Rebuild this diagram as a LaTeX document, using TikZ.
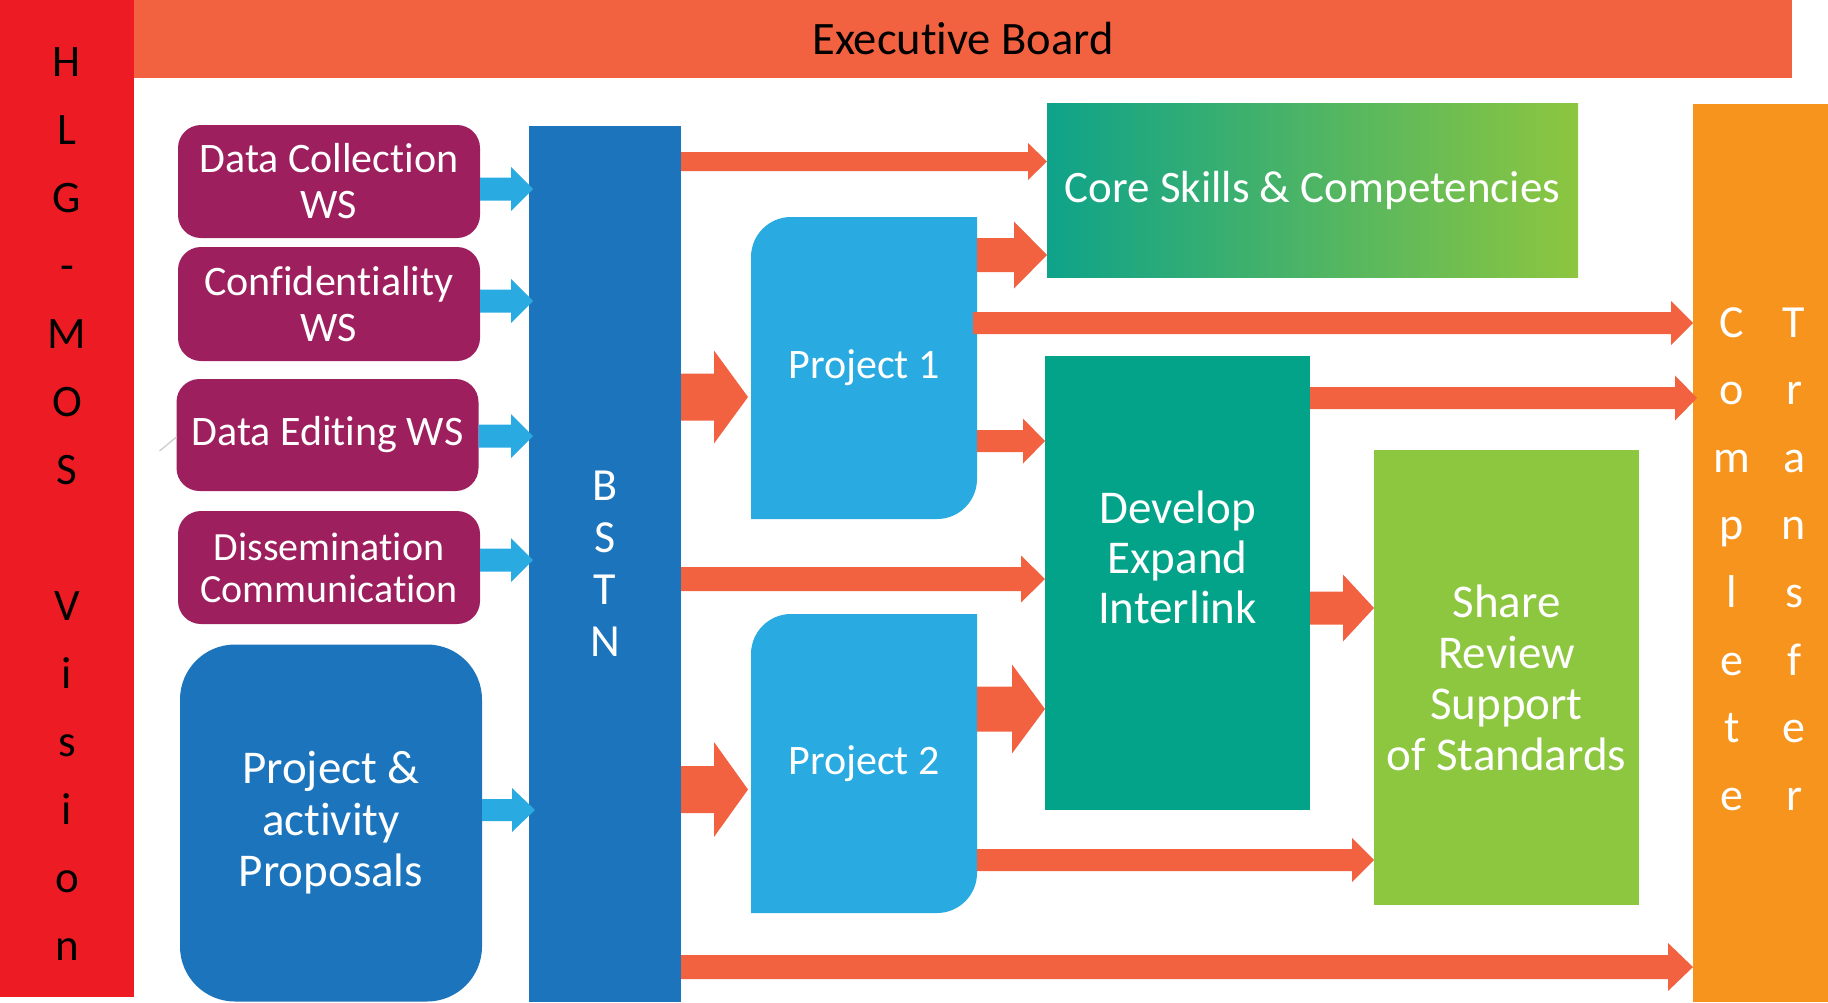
\documentclass[tikz,border=0pt]{standalone}
\usepackage{fontspec}
\setmainfont{Carlito}[Ligatures={TeX,NoCommon,NoContextual}]
\usetikzlibrary{calc,backgrounds}
\definecolor{visred}{HTML}{ED1C24}
\definecolor{boardor}{HTML}{F26241}
\definecolor{arrowor}{HTML}{F26241}
\definecolor{wspurple}{HTML}{9E1F5E}
\definecolor{dblue}{HTML}{1C75BC}
\definecolor{lblue}{HTML}{29ABE2}
\definecolor{devteal}{HTML}{03A389}
\definecolor{coreteal}{HTML}{0EA38A}
\definecolor{sgreen}{HTML}{8DC63F}
\definecolor{ctor}{HTML}{F7941D}
\newcommand{\setfs}[2]{\fontsize{#1pt}{#2pt}\selectfont}
% block arrow: colour, from, to (tip), y, shaft half, head half, head length
\newcommand{\barr}[7]{%
  \fill[#1] let \p1=(#2), \p2=(#3) in
    (\x1,-#4pt+#5pt) -- (\x2-#7pt,-#4pt+#5pt) -- (\x2-#7pt,-#4pt+#6pt) -- (\x2,-#4pt)
    -- (\x2-#7pt,-#4pt-#6pt) -- (\x2-#7pt,-#4pt-#5pt) -- (\x1,-#4pt-#5pt) -- cycle;}
\tikzset{
  box/.style={inner sep=0pt, outer sep=0pt, align=center, text=white},
  wsbox/.style={box, fill=wspurple, rounded corners=23pt, minimum width=302pt},
  letter/.style={anchor=base, inner sep=0pt, font=\setfs{45}{50}},
}
\begin{document}
\begin{tikzpicture}[x=1pt,y=-1pt]
\useasboundingbox (0,0) rectangle (1828,1002);

% side column and board
\node[box, fill=visred, minimum width=134pt, minimum height=997pt] (vision) at (67,498.5) {};
\foreach \l/\r in {H/0,L/1,G/2,-/3,M/4,O/5,S/6,V/8,i/9,s/10,i/11,o/12,n/13}
  \node[letter, text=black] (vis\r) at (67,{76+68*\r}) {\l};
\node[box, fill=boardor, minimum width=1658pt, minimum height=78pt, text=black, font=\setfs{46.5}{50}] (board) at (963,39) {Executive Board};

% workshops
\node[wsbox, minimum height=113pt, font=\setfs{42}{46}] (dc) at (329,181.5) {Data Collection\\WS};
\node[wsbox, minimum height=114pt, font=\setfs{42}{46}] (conf) at (329,304) {Confidentiality\\WS};
\node[wsbox, minimum height=112pt, font=\setfs{42}{46}] (de) at (327.5,435) {Data Editing WS};
\node[wsbox, minimum height=113pt, font=\setfs{40}{42}] (dis) at (329,567.5) {Dissemination\\Communication};
\node[box, fill=dblue, rounded corners=55pt, minimum width=302pt, minimum height=357pt, font=\setfs{47}{51.5}] (prop) at (331,823) {Project \&\\activity\\Proposals};
\draw[gray!35, line width=1.5pt] ([shift={(-17pt,-16pt)}]de.west) -- ([shift={(0pt,-2pt)}]de.west);

% BSTN
\node[box, fill=dblue, minimum width=152pt, minimum height=876pt, font=\setfs{46}{52}] (bstn) at (605,564) {B\\S\\T\\N};

% projects
\node[box, minimum width=226pt, minimum height=302pt, font=\setfs{42}{46}] (p1) at (864,368) {Project 1};
\node[box, minimum width=226pt, minimum height=299pt, font=\setfs{42}{46}] (p2) at (864,763.5) {Project 2};
\begin{scope}[on background layer]
\foreach \p in {p1,p2}
  \fill[lblue] (\p.south west) -- ([yshift=-40pt]\p.north west) arc[start angle=180,end angle=90,radius=40pt]
    -- (\p.north east) -- ([yshift=40pt]\p.south east) arc[start angle=0,end angle=-90,radius=40pt] -- cycle;
\end{scope}

% outcome boxes
\node[box, left color=coreteal, right color=sgreen, shading=axis, minimum width=531pt, minimum height=174pt, font=\setfs{45}{50}] (core) at (1312.5,190) {Core Skills \& Competencies};
\node[box, fill=devteal, minimum width=265pt, minimum height=454pt] (dev) at (1177.5,583) {};
\node[box, font=\setfs{47}{50}] (devtext) at ([yshift=26pt]dev.center) {Develop\\Expand\\Interlink};
\node[box, fill=sgreen, minimum width=265pt, minimum height=455pt, font=\setfs{47}{51}] (share) at (1506.5,677.5) {Share\\Review\\Support\\of Standards};

% complete transfer column
\node[box, fill=ctor, minimum width=135pt, minimum height=898pt] (ct) at (1760.5,553) {};
\foreach \a/\b [count=\k from 0] in {C/T,o/r,m/a,p/n,l/s,e/f,t/e,e/r} {
  \node[letter, text=white, font=\setfs{46}{50}] (cc\k) at (1732,{337+67.6*\k}) {\a};
  \node[letter, text=white, font=\setfs{46}{50}] (tt\k) at (1794,{337+67.6*\k}) {\b};
}

% blue arrows into BSTN
\barr{lblue}{dc.east}{[xshift=4pt]bstn.west}{189}{11.5}{22}{22}
\barr{lblue}{conf.east}{[xshift=4pt]bstn.west}{301}{11.5}{22}{22}
\barr{lblue}{de.east}{[xshift=4pt]bstn.west}{436}{11.5}{22}{22}
\barr{lblue}{dis.east}{[xshift=4pt]bstn.west}{560}{11.5}{22}{22}
\barr{lblue}{prop.east}{[xshift=6pt]bstn.west}{810}{11}{22}{23}

% orange arrows
\barr{arrowor}{bstn.east}{core.west}{161.5}{9.5}{18.5}{19}
\barr{arrowor}{bstn.east}{[xshift=-3pt]p1.west}{397}{23.5}{46.5}{34}
\barr{arrowor}{bstn.east}{dev.west}{579}{12}{23.5}{24}
\barr{arrowor}{bstn.east}{[xshift=-3pt]p2.west}{789.5}{23.5}{47.5}{34}
\barr{arrowor}{bstn.east}{ct.west}{967}{12}{24}{25}
\barr{arrowor}{p1.east}{core.west}{255}{17}{33.5}{33}
\barr{arrowor}{[xshift=-4pt]p1.east}{ct.west}{323}{11}{22}{22}
\barr{arrowor}{p1.east}{dev.west}{441}{11}{22.5}{22}
\barr{arrowor}{dev.east}{[xshift=4pt]ct.west}{398}{11}{22.5}{22}
\barr{arrowor}{dev.east}{share.west}{608}{16.5}{33.5}{31}
\barr{arrowor}{p2.east}{dev.west}{709}{22.5}{44.5}{33}
\barr{arrowor}{p2.east}{share.west}{860}{11}{22}{22}
\end{tikzpicture}
\end{document}
